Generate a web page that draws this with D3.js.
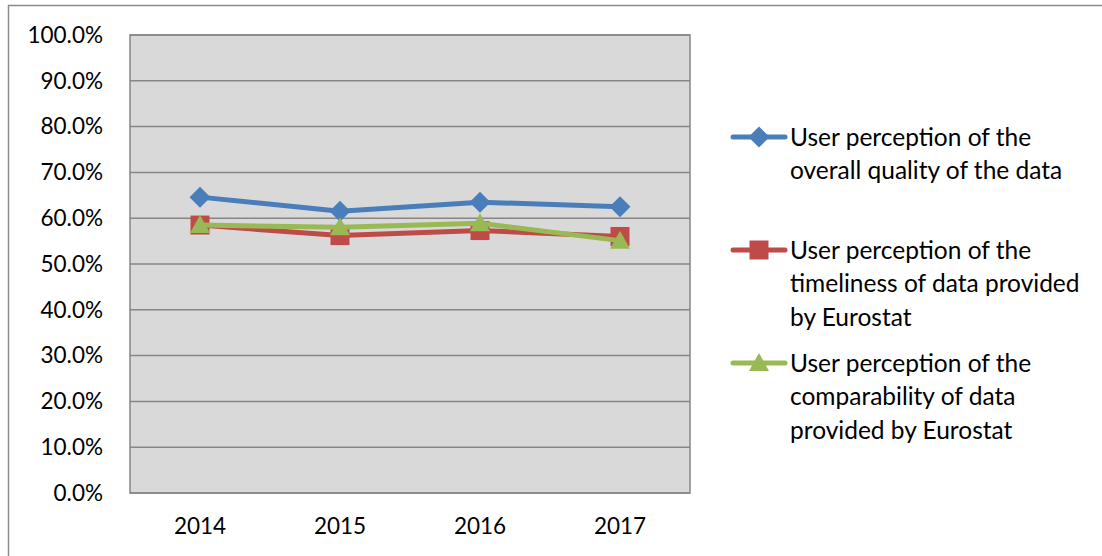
<!DOCTYPE html>
<html><head><meta charset="utf-8">
<script src="https://cdn.jsdelivr.net/npm/d3@7"></script>
<style>body{margin:0;background:#fff}svg{display:block}text{font-family:Lato,"Open Sans",sans-serif;fill:#000}</style>
</head><body><svg id="c" width="1102" height="556"></svg>
<script>
const categories = ["2014","2015","2016","2017"];
const overallQuality = [0.646, 0.615, 0.635, 0.625];
const timeliness = [0.585, 0.562, 0.573, 0.560];
const comparability = [0.585, 0.580, 0.589, 0.551];
const yTicks = [0,0.1,0.2,0.3,0.4,0.5,0.6,0.7,0.8,0.9,1.0];
const seriesNames = [
  ["User perception of the","overall quality of the data"],
  ["User perception of the","timeliness of data provided","by Eurostat"],
  ["User perception of the","comparability of data","provided by Eurostat"]
];
const series = [
  {values: overallQuality, color:"#4a7ebb", marker:"diamond"},
  {values: timeliness, color:"#be4b48", marker:"square"},
  {values: comparability, color:"#98b954", marker:"triangle"}
];

const svg = d3.select("#c");
svg.append("rect").attr("x",8.5).attr("y",5.5).attr("width",1110).attr("height",560)
  .attr("fill","none").attr("stroke","#8c8c8c").attr("stroke-width",1.5);

const L=130, R=690, T=35, B=493;
const x = d3.scaleBand().domain(categories).range([L,R]);
const y = d3.scaleLinear().domain([0,1]).range([B,T]);

svg.append("rect").attr("x",L).attr("y",T).attr("width",R-L).attr("height",B-T)
  .attr("fill","#d9d9d9").attr("stroke","#868686").attr("stroke-width",1.5);

svg.append("g").selectAll("line").data(yTicks).join("line")
  .attr("x1",L).attr("x2",R).attr("y1",d=>y(d)).attr("y2",d=>y(d))
  .attr("stroke","#868686").attr("stroke-width",1.5);

const FS = 22.5;
const yAxis = d3.axisLeft(y).tickValues(yTicks).tickFormat(d3.format(".1%")).tickSize(0).tickPadding(27);
const gy = svg.append("g").attr("transform",`translate(${L},0)`).call(yAxis);
gy.select(".domain").remove();
gy.selectAll("text").attr("font-size",FS).attr("font-family","Lato,'Open Sans',sans-serif").attr("fill","#000");

const xAxis = d3.axisBottom(x).tickSize(0).tickPadding(25);
const gx = svg.append("g").attr("transform",`translate(0,${B})`).call(xAxis);
gx.select(".domain").remove();
gx.selectAll("text").attr("font-size",FS).attr("font-family","Lato,'Open Sans',sans-serif").attr("fill","#000");

const cx = d => x(d)+x.bandwidth()/2;
const markerPath = m => {
  if (m==="diamond") return "M0,-10.5L10.5,0L0,10.5L-10.5,0Z";
  if (m==="square") return "M-9.5,-9.5H9.5V9.5H-9.5Z";
  return "M0,-10L10,8H-10Z";
};

series.forEach(s=>{
  const line = d3.line().x((d,i)=>cx(categories[i])).y(d=>y(d));
  svg.append("path").datum(s.values).attr("d",line).attr("fill","none")
    .attr("stroke",s.color).attr("stroke-width",5).attr("stroke-linejoin","round").attr("stroke-linecap","round");
  svg.append("g").selectAll("path").data(s.values).join("path")
    .attr("transform",(d,i)=>`translate(${cx(categories[i])},${y(d)})`)
    .attr("d",markerPath(s.marker)).attr("fill",s.color);
});

const legTop = [137, 250, 363];
series.forEach((s,k)=>{
  const g = svg.append("g");
  const ly = legTop[k];
  g.append("line").attr("x1",733).attr("x2",785).attr("y1",ly).attr("y2",ly)
    .attr("stroke",s.color).attr("stroke-width",5).attr("stroke-linecap","round");
  g.append("path").attr("transform",`translate(759,${ly})`).attr("d",markerPath(s.marker)).attr("fill",s.color);
  seriesNames[k].forEach((t,j)=>{
    g.append("text").attr("x",790).attr("y",ly+j*33.5).attr("dy","0.35em")
      .attr("font-size",24.5).text(t);
  });
});
</script></body></html>
